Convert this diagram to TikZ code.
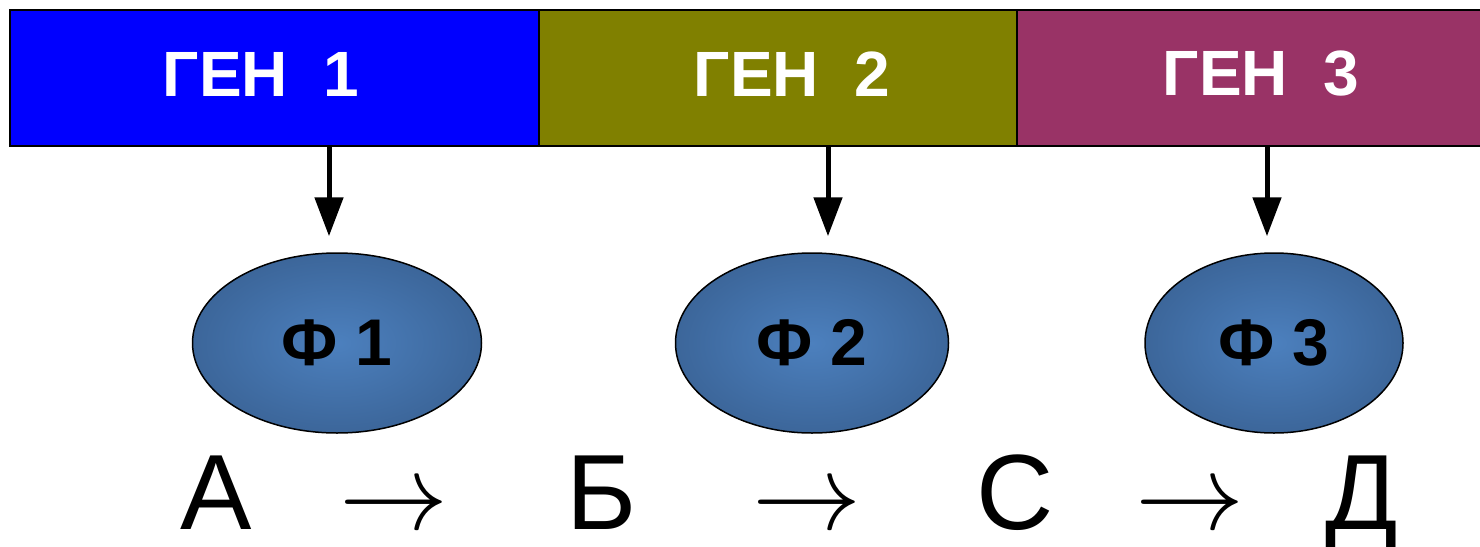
\documentclass[tikz,border=0pt]{standalone}
\usepackage{graphicx}
\usepackage{fontspec}
\setmainfont{Liberation Sans}
\usepackage{tikz}
\usetikzlibrary{arrows.meta, positioning, shapes.geometric}

\definecolor{genblue}{RGB}{0,0,255}
\definecolor{genolive}{RGB}{128,128,0}
\definecolor{genplum}{RGB}{153,51,102}
\definecolor{fenin}{RGB}{76,128,190}
\definecolor{fenout}{RGB}{60,102,154}

\newcommand{\reactarrow}{\scalebox{10.9}{\fontsize{10}{12}\selectfont$\rightarrow$}}

\begin{document}
\begin{tikzpicture}[
    x=1pt, y=-1pt,
    node distance=0pt and 0pt,
    genbar/.style={draw, line width=2pt, outer sep=0pt, inner sep=0pt, minimum height=136pt, anchor=north west},
    gentext/.style={text=white, font=\fontsize{64}{70}\selectfont\bfseries},
    fen/.style={ellipse, draw, line width=1.5pt, inner sep=0pt, minimum width=289pt, minimum height=180pt, inner color=fenin, outer color=fenout, font=\fontsize{66}{72}\selectfont\bfseries},
    chem/.style={anchor=base, font=\fontsize{107}{120}\selectfont},
    arrow/.style={-{Triangle[length=39pt, width=28pt]}, line width=5pt, shorten >=16pt}
]
\useasboundingbox (0,0) rectangle (1480,546);

\node[genbar, fill=genblue, minimum width=529pt] (gen1) at (10,10) {};
\node[genbar, fill=genolive, minimum width=478pt, right=of gen1] (gen2) {};
\node[genbar, fill=genplum, minimum width=473pt, right=of gen2] (gen3) {};

\node[gentext] (g1) at (261,74) {ГЕН\ \ 1};
\node[gentext] (g2) at (792,74) {ГЕН\ \ 2};
\node[gentext] (g3) at (1261,74) {ГЕН\ \ 3};

\node[fen] (f1) at (337,343) {Ф 1};
\node[fen, minimum width=273pt] (f2) at (812,343) {Ф 2};
\node[fen, minimum width=258pt] (f3) at (1274,343) {Ф 3};

\coordinate (p1) at ([xshift=-8pt]f1.north);
\coordinate (p2) at ([xshift=16pt]f2.north);
\coordinate (p3) at ([xshift=-7pt]f3.north);

\draw[arrow] (p1 |- gen1.south) -- (p1);
\draw[arrow] (p2 |- gen2.south) -- (p2);
\draw[arrow] (p3 |- gen3.south) -- (p3);

\node[chem] (sa) at (216,529) {А};
\node[chem] (r1) at (394,529) {\reactarrow};
\node[chem] (sb) at (602,529) {Б};
\node[chem] (r2) at (807,529) {\reactarrow};
\node[chem] (sc) at (1015,529) {С};
\node[chem] (r3) at (1190,529) {\reactarrow};
\node[chem] (sd) at (1362,529) {Д};

\end{tikzpicture}
\end{document}
